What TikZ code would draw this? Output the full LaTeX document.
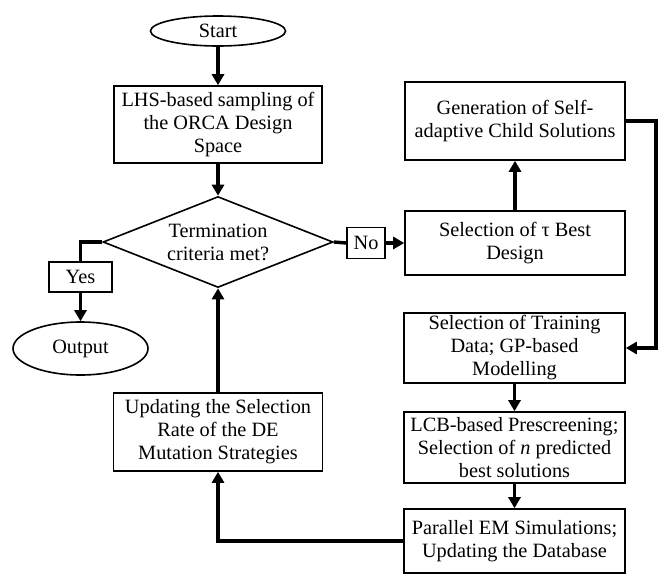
\documentclass[tikz,border=0pt]{standalone}
\usepackage{fontspec}
\setmainfont{Liberation Serif}
\usetikzlibrary{shapes.geometric,arrows.meta}
\begin{document}
\begin{tikzpicture}[x=1pt,y=-1pt,>={Triangle[length=11pt,width=12pt]}, line join=miter,
	font=\fontsize{20.3}{23}\selectfont,
	box/.style={draw,line width=1.6pt,inner sep=0pt,align=center},
	con/.style={line width=3.4pt}]
	\useasboundingbox (0,0) rectangle (666,576);
	%\draw[gray!50,dashed] (0,0) grid[step=50] (666,576);
	% cot trai
	\node[box,ellipse,minimum width=135pt,minimum height=30pt] (start) at (218,31) {Start};
	\node[box,minimum width=208pt,minimum height=77pt] (lhs) at (218,124.5) {LHS-based sampling of\\the ORCA Design\\Space};
	\node[box,diamond,aspect=2.5,minimum width=230pt,minimum height=91pt] (term) at (218,242) {Termination\\criteria met?};
	\node[box,minimum width=63pt,minimum height=30pt] (yes) at (80.5,277) {Yes};
	\node[box,ellipse,minimum width=135pt,minimum height=53pt] (out) at (80.5,348.5) {Output};
	\node[box,minimum width=209pt,minimum height=78pt] (upd) at (218,432) {Updating the Selection\\Rate of the DE\\Mutation Strategies};
	% cot phai
	\node[box,minimum width=38pt,minimum height=31pt] (no) at (366,243) {No};
	\node[box,minimum width=220pt,minimum height=64pt] (sel) at (515,243) {Selection of τ Best\\Design};
	\node[box,minimum width=220pt,minimum height=78pt] (gen) at (515,121) {Generation of Self-\\adaptive Child Solutions};
	\node[box,minimum width=221pt,minimum height=70pt] (train) at (514.5,348) {Selection of Training\\Data; GP-based\\Modelling};
	\node[box,minimum width=221pt,minimum height=71pt] (lcb) at (514.5,447.5) {LCB-based Prescreening;\\Selection of \textit{n} predicted\\best solutions};
	\node[box,minimum width=221pt,minimum height=64pt] (par) at (514.5,541) {Parallel EM Simulations;\\Updating the Database};
	\draw[con,->] (start) -- (lhs);
	\draw[con,->] (lhs) -- (term);
	\draw[con] (term.west) -| (yes.north);
	\draw[con,->] (yes) -- (out);
	\draw[con] (term.east) -- (no.west);
	\draw[con,->] (no) -- (sel);
	\draw[con,->] (sel) -- (gen);
	\draw[con,->] (gen.east) -- ++(30,0) |- (train.east);
	\draw[con,->] (train) -- (lcb);
	\draw[con,->] (lcb) -- (par);
	\draw[con,->] (par.west) -| (upd.south);
	\draw[con,->] (upd) -- (term);
\end{tikzpicture}
\end{document}
